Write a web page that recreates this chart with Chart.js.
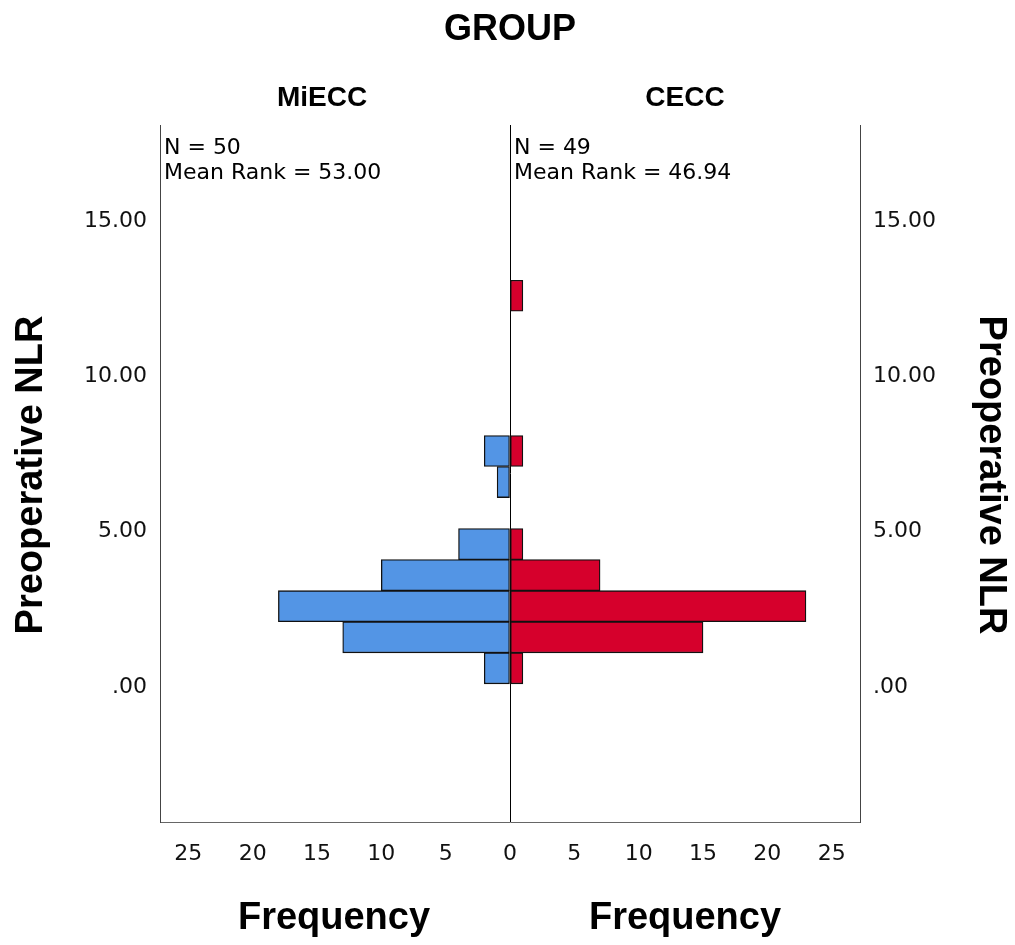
<!DOCTYPE html>
<html>
<head>
<meta charset="utf-8">
<script src="https://cdn.jsdelivr.net/npm/chart.js@4.4.1/dist/chart.umd.min.js"></script>
<style>
  body { margin: 0; background: #fff; }
</style>
</head>
<body>
<canvas id="pyramide" width="1015" height="945"></canvas>
<script>
// --- Datos (histograma por grupo) ---
const centrosNLR = [0.6, 1.6, 2.6, 3.6, 4.6, 6.6, 7.6, 12.6];
const frecMiECC  = [2, 13, 18, 10, 4, 1, 2, 0];
const frecCECC   = [1, 15, 23, 7, 1, 0, 1, 1];
const ticksY     = [0, 5, 10, 15];
const ticksX     = [-25, -20, -15, -10, -5, 0, 5, 10, 15, 20, 25];

const tituloGrupo = 'GROUP';
const grupos = ['MiECC', 'CECC'];
const resumen = [
    ['N = 50', 'Mean Rank = 53.00'],
    ['N = 49', 'Mean Rank = 46.94']
];
const tituloY = 'Preoperative NLR';
const tituloX = 'Frequency';

// ceros fuera (no dibujar barras vacias)
const datosMiECC = centrosNLR.map((y, i) => frecMiECC[i] ? { x: -frecMiECC[i], y: y } : null).filter(Boolean);
const datosCECC  = centrosNLR.map((y, i) => frecCECC[i] ? { x: frecCECC[i], y: y } : null).filter(Boolean);

const fuente = '"Liberation Sans", Arial, sans-serif';
const fuenteChica = '"DejaVu Sans", Verdana, sans-serif';

function etiquetaY(v) {
    return v === 0 ? '.00' : Number(v).toFixed(2);
}

// --- Textos alrededor del grafico ---
const textos = {
    id: 'textos',
    afterDraw(chart) {
        const ctx = chart.ctx;
        const a = chart.chartArea;
        const mid = chart.scales.x.getPixelForValue(0);
        ctx.save();
        ctx.fillStyle = '#000';
        ctx.textAlign = 'center';
        ctx.textBaseline = 'middle';

        ctx.font = 'bold 36px ' + fuente;
        ctx.fillText(tituloGrupo, mid, 30);

        ctx.font = 'bold 28px ' + fuente;
        ctx.fillText(grupos[0], (a.left + mid) / 2 - 13, 98);
        ctx.fillText(grupos[1], (mid + a.right) / 2, 98);

        ctx.font = 'bold 38px ' + fuente;
        ctx.fillText(tituloX, (a.left + mid) / 2 - 1, 919);
        ctx.fillText(tituloX, (mid + a.right) / 2, 919);

        ctx.save();
        ctx.translate(32, 475);
        ctx.rotate(-Math.PI / 2);
        ctx.fillText(tituloY, 0, 0);
        ctx.restore();

        ctx.save();
        ctx.translate(990, 475);
        ctx.rotate(Math.PI / 2);
        ctx.fillText(tituloY, 0, 0);
        ctx.restore();

        ctx.font = '22px ' + fuenteChica;
        ctx.textAlign = 'left';
        ctx.fillText(resumen[0][0], a.left + 4, 148);
        ctx.fillText(resumen[0][1], a.left + 4, 173);
        ctx.fillText(resumen[1][0], mid + 4, 148);
        ctx.fillText(resumen[1][1], mid + 4, 173);
        ctx.restore();
    }
};

const ejeY = (pos, ancho) => ({
    type: 'linear',
    position: pos,
    min: -4.35,
    max: 18.1,
    offset: false,
    afterFit: s => { s.width = ancho; },
    afterBuildTicks: s => { s.ticks = ticksY.map(v => ({ value: v })); },
    ticks: {
        color: '#111',
        font: { family: fuenteChica, size: 22 },
        padding: 13,
        callback: etiquetaY
    },
    grid: { offset: false, drawTicks: false, color: 'rgba(0,0,0,0)' },
    border: { display: true, color: '#444', width: 1 }
});

const ctx = document.getElementById('pyramide').getContext('2d');
new Chart(ctx, {
    type: 'bar',
    data: {
        datasets: [
            {
                label: grupos[0],
                data: datosMiECC,
                backgroundColor: '#5395e5',
                borderColor: '#111',
                borderWidth: 1.3,
                borderSkipped: false,
                grouped: false,
                barPercentage: 1,
                categoryPercentage: 1
            },
            {
                label: grupos[1],
                data: datosCECC,
                backgroundColor: '#d6002c',
                borderColor: '#111',
                borderWidth: 1.3,
                borderSkipped: false,
                grouped: false,
                barPercentage: 1,
                categoryPercentage: 1
            }
        ]
    },
    options: {
        indexAxis: 'y',
        responsive: false,
        animation: false,
        layout: { padding: { top: 125, left: 0, right: 0, bottom: 0 } },
        plugins: {
            legend: { display: false },
            tooltip: { enabled: false }
        },
        scales: {
            x: {
                type: 'linear',
                min: -27.2,
                max: 27.2,
                afterFit: s => { s.height = 123; },
                afterBuildTicks: s => { s.ticks = ticksX.map(v => ({ value: v })); },
                ticks: {
                    color: '#111',
                    font: { family: fuenteChica, size: 22 },
                    padding: 19,
                    maxRotation: 0,
                    autoSkip: false,
                    callback: v => Math.abs(v)
                },
                grid: {
                    drawTicks: false,
                    color: c => (c.tick && c.tick.value === 0) ? '#000' : 'rgba(0,0,0,0)'
                },
                border: { display: true, color: '#666', width: 1 }
            },
            y: ejeY('left', 160),
            y2: ejeY('right', 155)
        }
    },
    plugins: [textos]
});
</script>
</body>
</html>
